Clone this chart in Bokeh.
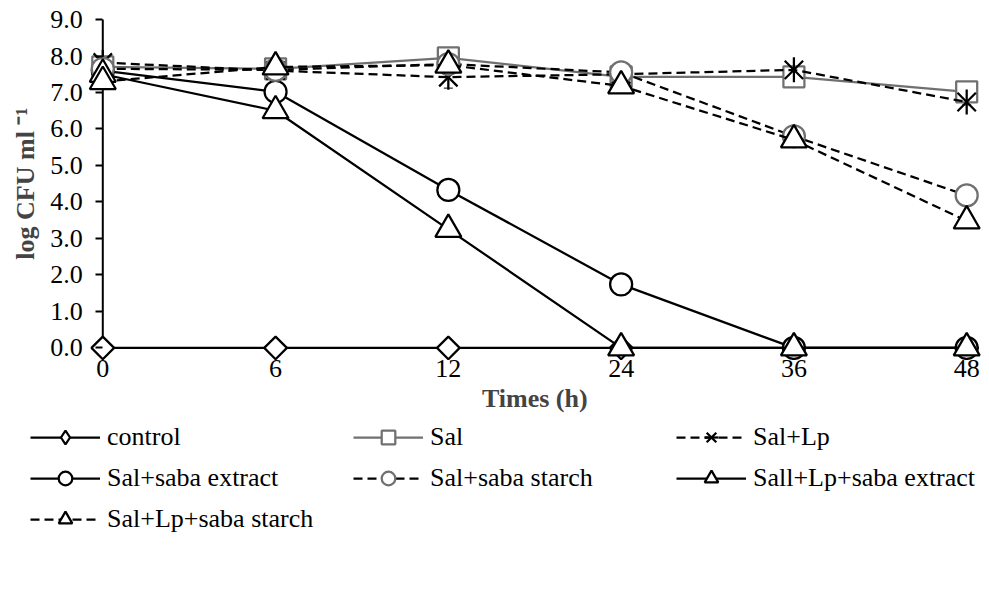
import math

from bokeh.embed import file_html
from bokeh.models import (CDSView, ColumnDataSource, FixedTicker, IndexFilter,
                          Label, Legend, LegendItem, Range1d, TeeHead, Whisker)
from bokeh.plotting import figure
from bokeh.resources import INLINE

# Sampling times (h) and log CFU/ml counts per treatment
times = ["0", "6", "12", "24", "36", "48"]
y_ticks = [0, 1, 2, 3, 4, 5, 6, 7, 8, 9]

control = [0.0, 0.0, 0.0, 0.0, 0.0, 0.0]
sal = [7.70, 7.65, 7.95, 7.43, 7.43, 7.02]
sal_lp = [7.82, 7.60, 7.42, 7.50, 7.62, 6.74]
sal_saba_extract = [7.60, 7.02, 4.33, 1.74, 0.0, 0.0]
sal_saba_starch = [7.65, 7.62, 7.78, 7.55, 5.80, 4.18]
sall_lp_saba_extract = [7.50, 6.50, 3.25, 0.0, 0.0, 0.0]
sal_lp_saba_starch = [7.30, 7.70, 7.75, 7.18, 5.70, 3.48]

# standard deviations
control_sd = [0.0, 0.0, 0.0, 0.0, 0.0, 0.0]
sal_sd = [0.10, 0.05, 0.08, 0.05, 0.05, 0.08]
sal_lp_sd = [0.10, 0.08, 0.30, 0.08, 0.08, 0.08]
sal_saba_extract_sd = [0.08, 0.15, 0.05, 0.04, 0.0, 0.0]
sal_saba_starch_sd = [0.08, 0.08, 0.08, 0.08, 0.06, 0.15]
sall_lp_saba_extract_sd = [0.10, 0.10, 0.08, 0.0, 0.0, 0.0]
sal_lp_saba_starch_sd = [0.10, 0.08, 0.08, 0.08, 0.08, 0.10]

SERIF = "Liberation Serif"
GREY = "#707070"

x_pos = list(range(len(times)))

# The frame fills the whole canvas; axes are pinned at the origin so that
# tick labels, titles and the legend all live inside the drawing area.
p = figure(width=989, height=610,
           x_range=Range1d(-0.592, 5.132), y_range=Range1d(-7.196, 9.521),
           output_backend="svg", toolbar_location=None,
           min_border_left=0, min_border_right=0,
           min_border_top=0, min_border_bottom=0)
p.outline_line_color = None
p.grid.visible = False
p.background_fill_color = "white"

p.xaxis.fixed_location = 0
p.yaxis.fixed_location = 0

xa = p.xaxis[0]
xa.ticker = FixedTicker(ticks=x_pos)
xa.major_label_overrides = {i: t for i, t in enumerate(times)}
xa.axis_line_color = None
xa.major_tick_line_color = None
xa.minor_tick_line_color = None
xa.major_tick_out = 0
xa.major_tick_in = 0
xa.major_label_standoff = 12
xa.major_label_text_font = SERIF
xa.major_label_text_font_size = "26px"
xa.major_label_text_color = "black"

ya = p.yaxis[0]
ya.ticker = FixedTicker(ticks=y_ticks)
ya.major_label_overrides = {v: f"{v:.1f}" for v in y_ticks}
ya.axis_line_color = None
ya.major_tick_line_color = "black"
ya.major_tick_line_width = 2
ya.major_tick_out = 7
ya.major_tick_in = 0
ya.minor_tick_line_color = None
ya.major_label_standoff = 13
ya.major_label_text_font = SERIF
ya.major_label_text_font_size = "26px"
ya.major_label_text_color = "black"

# axis lines spanning only the data extent
p.segment(x0=[x_pos[0]], y0=[y_ticks[0]], x1=[x_pos[0]], y1=[y_ticks[-1]],
          line_color="black", line_width=2)
p.segment(x0=[x_pos[0]], y0=[y_ticks[0]], x1=[x_pos[-1]], y1=[y_ticks[0]],
          line_color="black", line_width=2)

series = [
    ("control", control, control_sd, dict(color="black", dash="solid"),
     [dict(marker="square", size=16, angle=math.pi / 4, color="black")]),
    ("Sal", sal, sal_sd, dict(color=GREY, dash="solid"),
     [dict(marker="square", size=21, angle=0, color=GREY)]),
    ("Sal+Lp", sal_lp, sal_lp_sd, dict(color="black", dash="9 5"),
     [dict(marker="x", size=26, angle=0, color="black"),
      dict(marker="dash", size=25, angle=math.pi / 2, color="black")]),
    ("Sal+saba extract", sal_saba_extract, sal_saba_extract_sd,
     dict(color="black", dash="solid"),
     [dict(marker="circle", size=22, angle=0, color="black")]),
    ("Sal+saba starch", sal_saba_starch, sal_saba_starch_sd,
     dict(color="black", dash="9 5"),
     [dict(marker="circle", size=22, angle=0, color=GREY)]),
    ("Sall+Lp+saba extract", sall_lp_saba_extract, sall_lp_saba_extract_sd,
     dict(color="black", dash="solid"),
     [dict(marker="triangle", size=26, angle=0, color="black")]),
    ("Sal+Lp+saba starch", sal_lp_saba_starch, sal_lp_saba_starch_sd,
     dict(color="black", dash="9 5"),
     [dict(marker="triangle", size=26, angle=0, color="black")]),
]

items = []
for name, vals, sd, line_style, markers in series:
    src = ColumnDataSource(dict(x=x_pos, y=vals))
    line_r = p.line("x", "y", source=src, line_color=line_style["color"],
                    line_width=2.25, line_dash=line_style["dash"])
    legend_rends = [line_r]
    for m in markers:
        if m["angle"] and m["marker"] == "square":
            # legend glyphs ignore rotation, so the key uses a diamond
            # glyph; in the plot it sits hidden under the first marker
            legend_rends.append(
                p.scatter("x", "y", source=src, marker="diamond",
                          size=m["size"] * 1.3, line_color=m["color"],
                          line_width=2.25, fill_color="white",
                          view=CDSView(filter=IndexFilter(indices=[0]))))
            p.scatter("x", "y", source=src, marker=m["marker"],
                      size=m["size"], angle=m["angle"],
                      line_color=m["color"], line_width=2.25,
                      fill_color="white")
        else:
            legend_rends.append(
                p.scatter("x", "y", source=src, marker=m["marker"],
                          size=m["size"], angle=m["angle"],
                          line_color=m["color"], line_width=2.25,
                          fill_color="white"))
    keep = [i for i, e in enumerate(sd) if e > 0]
    if keep:
        wsrc = ColumnDataSource(dict(x=[x_pos[i] for i in keep],
                                     lo=[vals[i] - sd[i] for i in keep],
                                     hi=[vals[i] + sd[i] for i in keep]))
        p.add_layout(Whisker(source=wsrc, base="x", lower="lo", upper="hi",
                             line_color="black", line_width=1,
                             lower_head=TeeHead(size=9, line_width=1),
                             upper_head=TeeHead(size=9, line_width=1)))
    items.append(LegendItem(label=name, renderers=legend_rends))

legend = Legend(items=items, location=(30, 72), orientation="horizontal",
                ncols=3, glyph_width=70, glyph_height=34, label_height=38,
                label_width=243, label_standoff=7, spacing=3, padding=0,
                margin=0, border_line_color=None, background_fill_alpha=0,
                label_text_font=SERIF, label_text_font_size="26px",
                label_text_color="black")
p.add_layout(legend)

p.add_layout(Label(x=-0.447, y=4.5, text="log CFU ml \u207b\u00b9",
                   angle=math.pi / 2, text_align="center",
                   text_baseline="middle", text_font=SERIF,
                   text_font_size="26px", text_font_style="bold"))
p.add_layout(Label(x=2.5, y=-1.39, text="Times (h)", text_align="center",
                   text_baseline="middle", text_font=SERIF,
                   text_font_size="26px", text_font_style="bold"))

open("out.html", "w").write(file_html(p, INLINE))
